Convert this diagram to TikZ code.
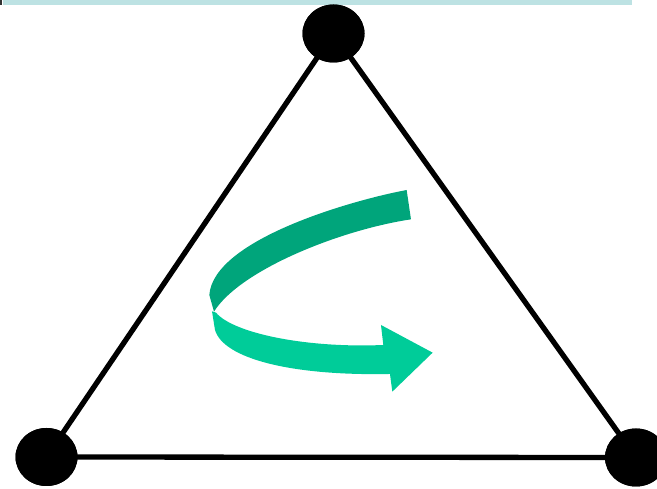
\documentclass[tikz,border=0pt]{standalone}
\usepackage{tikz}
\usetikzlibrary{shapes.geometric}
\definecolor{barcyan}{HTML}{BDE2E3}
\definecolor{darkribbon}{HTML}{00A57B}
\definecolor{lightribbon}{HTML}{00CC99}
\begin{document}
\begin{tikzpicture}[
    x=1pt, y=-1pt,
    vertex/.style={ellipse, fill=black, minimum width=62pt, minimum height=58pt, inner sep=0pt},
    edge/.style={line width=5.3pt}
]
    \useasboundingbox (0,0) rectangle (657,489);
    \fill[barcyan] (3,0) rectangle (632,5);
    \fill[black!80] (0,0) rectangle (2,5);

    \node[vertex] (top) at (333.5,33.5) {};
    \node[vertex] (left) at (46.5,457) {};
    \node[vertex] (right) at (636,457.5) {};

    \draw[edge] (top.center) -- (left.center);
    \draw[edge] (top.center) -- (right.center);
    \draw[edge] (left.center) -- (right.center);
    \node[vertex] at (top) {};
    \node[vertex] at (left) {};
    \node[vertex] at (right) {};

    \begin{scope}[shift={(190,170)}, x=0.3333pt, y=-0.3333pt]
        \fill[darkribbon] (650,60) .. controls (480,92) and (70,210) .. (58,375)
            -- (72,425) .. controls (150,300) and (450,180) .. (663,148) -- cycle;
        \fill[lightribbon] (66,424) -- (75,480) .. controls (100,565) and (300,618) .. (600,612)
            -- (607,665) -- (728,548) -- (573,465) -- (580,525)
            .. controls (350,535) and (130,490) .. (78,428) -- cycle;
    \end{scope}
\end{tikzpicture}
\end{document}
